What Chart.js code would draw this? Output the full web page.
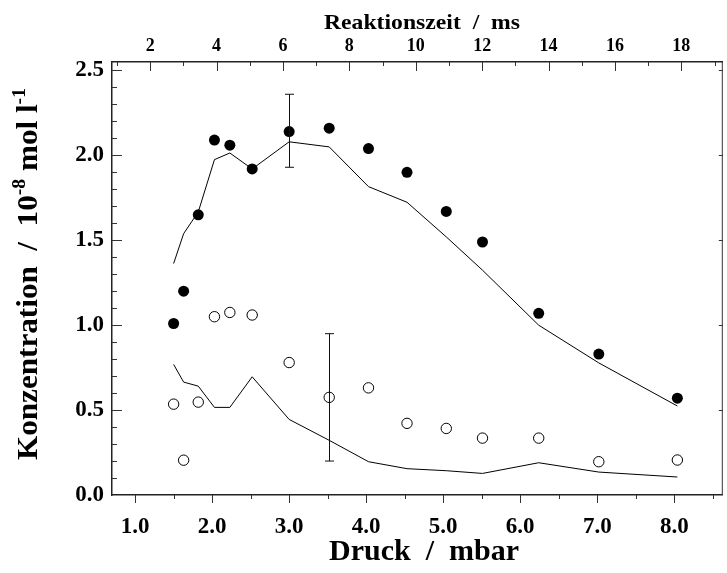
<!DOCTYPE html>
<html>
<head>
<meta charset="utf-8">
<script src="https://cdn.jsdelivr.net/npm/chart.js@4.4.1/dist/chart.umd.min.js"></script>
<style>
  html, body { margin: 0; padding: 0; background: #fff; overflow: hidden; }
  #wrap { position: relative; width: 729px; height: 573px; }
</style>
</head>
<body>
<div id="wrap"><canvas id="chart"></canvas></div>
<script>
// pressure of each measurement (mbar)
const pressure = [1.5, 1.63, 1.82, 2.03, 2.23, 2.52, 3.0, 3.52, 4.03, 4.53, 5.04, 5.51, 6.24, 7.02, 8.04];
// measured concentrations, 10^-8 mol/l
const concFilled = [1.01, 1.20, 1.65, 2.09, 2.06, 1.92, 2.14, 2.16, 2.04, 1.90, 1.67, 1.49, 1.07, 0.83, 0.57];
const concOpen = [0.535, 0.205, 0.547, 1.05, 1.075, 1.06, 0.78, 0.575, 0.631, 0.422, 0.392, 0.335, 0.335, 0.196, 0.206];
// model curves
const modelFilled = [1.363, 1.539, 1.667, 1.975, 2.014, 1.92, 2.08, 2.05, 1.816, 1.724, 1.52, 1.324, 1.0, 0.778, 0.524];
const modelOpen = [0.769, 0.665, 0.641, 0.516, 0.516, 0.696, 0.445, 0.322, 0.196, 0.155, 0.143, 0.127, 0.19, 0.135, 0.106];
// error bars
const errPressure = [3.0, 3.52];
const errLow = [1.93, 0.20];
const errHigh = [2.36, 0.95];

const serif = '"Liberation Serif", "Times New Roman", serif';

function pairs(xs, ys) {
  return xs.map((x, i) => ({ x: x, y: ys[i] }));
}

// draws a title made of normal and superscript parts, centred on the origin
function drawTitle(ctx, parts, size, width) {
  const supSize = Math.round(size * 0.62);
  let total = 0;
  const widths = parts.map(([t, sup]) => {
    ctx.font = `bold ${sup ? supSize : size}px ${serif}`;
    const w = ctx.measureText(t).width;
    total += w;
    return w;
  });
  ctx.scale(width / total, 1);
  ctx.textAlign = 'left';
  ctx.textBaseline = 'alphabetic';
  ctx.fillStyle = '#000';
  let cx = -total / 2;
  parts.forEach(([t, sup], i) => {
    ctx.font = `bold ${sup ? supSize : size}px ${serif}`;
    ctx.fillText(t, cx, sup ? -size * 0.4 : 0);
    cx += widths[i];
  });
}

const axisDecor = {
  id: 'axisDecor',
  afterDatasetsDraw(chart) {
    const { ctx, chartArea: a, scales } = chart;
    const x = scales.x, xt = scales.xTop, y = scales.y;
    ctx.save();
    ctx.strokeStyle = '#111';
    ctx.lineWidth = 1;

    // error bars
    errPressure.forEach((p, i) => {
      const px = Math.round(x.getPixelForValue(p)) + 0.5;
      const y0 = y.getPixelForValue(errLow[i]);
      const y1 = y.getPixelForValue(errHigh[i]);
      ctx.beginPath();
      ctx.moveTo(px, y0); ctx.lineTo(px, y1);
      ctx.moveTo(px - 4.5, y0); ctx.lineTo(px + 4.5, y0);
      ctx.moveTo(px - 4.5, y1); ctx.lineTo(px + 4.5, y1);
      ctx.stroke();
    });

    ctx.strokeStyle = '#333';
    const tick = (x0, y0, x1, y1) => {
      ctx.beginPath(); ctx.moveTo(x0, y0); ctx.lineTo(x1, y1); ctx.stroke();
    };
    // bottom axis: outward ticks, minor every 0.5
    for (let v = 0.5; v <= x.max; v += 0.5) {
      if (v < x.min) continue;
      const px = Math.round(x.getPixelForValue(v)) + 0.5;
      const major = Math.abs(v - Math.round(v)) < 1e-6;
      tick(px, a.bottom, px, a.bottom + (major ? 8 : 4));
    }
    // top axis: inward ticks, minor every 1 ms
    for (let v = 1; v <= xt.max; v += 1) {
      if (v < xt.min) continue;
      const px = Math.round(xt.getPixelForValue(v)) + 0.5;
      tick(px, a.top, px, a.top + (v % 2 === 0 ? 9 : 4));
    }
    // left axis: inward ticks, minor every 0.1; right axis: major only
    for (let k = 1; k <= Math.floor(y.max * 10 + 1e-6); k++) {
      const py = Math.round(y.getPixelForValue(k / 10)) + 0.5;
      const major = k % 5 === 0;
      tick(a.left, py, a.left + (major ? 10 : 5), py);
      if (major) tick(a.right, py, a.right - 4, py);
    }
    tick(a.right - 0.5, a.top, a.right - 0.5, a.bottom);
    ctx.restore();
  },
  afterDraw(chart) {
    const { ctx } = chart;
    ctx.save();
    ctx.translate(422, 29);
    drawTitle(ctx, [['Reaktionszeit  /  ms', false]], 22, 196);
    ctx.restore();

    ctx.save();
    ctx.translate(424, 560);
    drawTitle(ctx, [['Druck  /  mbar', false]], 29, 190);
    ctx.restore();

    ctx.save();
    ctx.translate(37, 274);
    ctx.rotate(-Math.PI / 2);
    drawTitle(ctx, [['Konzentration  /  10', false], ['-8', true], [' mol l', false], ['-1', true]], 30, 372);
    ctx.restore();
  }
};

const tickFont = { family: serif, weight: 'bold', size: 23 };

new Chart(document.getElementById('chart'), {
  type: 'scatter',
  data: {
    datasets: [
      {
        data: pairs(pressure, concFilled),
        pointRadius: 5.5,
        pointBackgroundColor: '#000',
        pointBorderColor: '#000',
        pointBorderWidth: 0
      },
      {
        data: pairs(pressure, concOpen),
        pointRadius: 5.2,
        pointBackgroundColor: '#fff',
        pointBorderColor: '#000',
        pointBorderWidth: 1
      },
      {
        data: pairs(pressure, modelFilled),
        showLine: true,
        pointRadius: 0,
        borderColor: '#000',
        borderWidth: 1
      },
      {
        data: pairs(pressure, modelOpen),
        showLine: true,
        pointRadius: 0,
        borderColor: '#000',
        borderWidth: 1
      }
    ]
  },
  options: {
    responsive: true,
    maintainAspectRatio: false,
    animation: false,
    layout: { padding: 0 },
    plugins: { legend: { display: false }, tooltip: { enabled: false } },
    scales: {
      x: {
        type: 'linear',
        position: 'bottom',
        min: 0.70,
        max: 8.63,
        grid: { display: false, drawTicks: false },
        border: { display: true, color: '#222', width: 1.5 },
        ticks: {
          stepSize: 1, includeBounds: false, padding: 18, color: '#000',
          font: tickFont, maxRotation: 0, autoSkip: false,
          callback: v => v.toFixed(1)
        },
        afterFit: s => { s.height = 78; }
      },
      xTop: {
        type: 'linear',
        position: 'top',
        display: true,
        min: 0.85,
        max: 19.25,
        grid: { display: false, drawTicks: false },
        border: { display: true, color: '#222', width: 1.5 },
        ticks: {
          stepSize: 2, includeBounds: false, padding: 5, color: '#000',
          font: { family: serif, weight: 'bold', size: 18 }, maxRotation: 0, autoSkip: false,
          callback: v => String(v)
        },
        afterFit: s => { s.height = 62; }
      },
      y: {
        type: 'linear',
        min: 0,
        max: 2.55,
        grid: { display: false, drawTicks: false },
        border: { display: true, color: '#222', width: 1.5 },
        ticks: {
          stepSize: 0.5, includeBounds: false, padding: 8, color: '#000',
          font: tickFont, autoSkip: false,
          callback: v => v.toFixed(1)
        },
        afterFit: s => { s.width = 112; }
      }
    }
  },
  plugins: [axisDecor]
});
</script>
</body>
</html>
